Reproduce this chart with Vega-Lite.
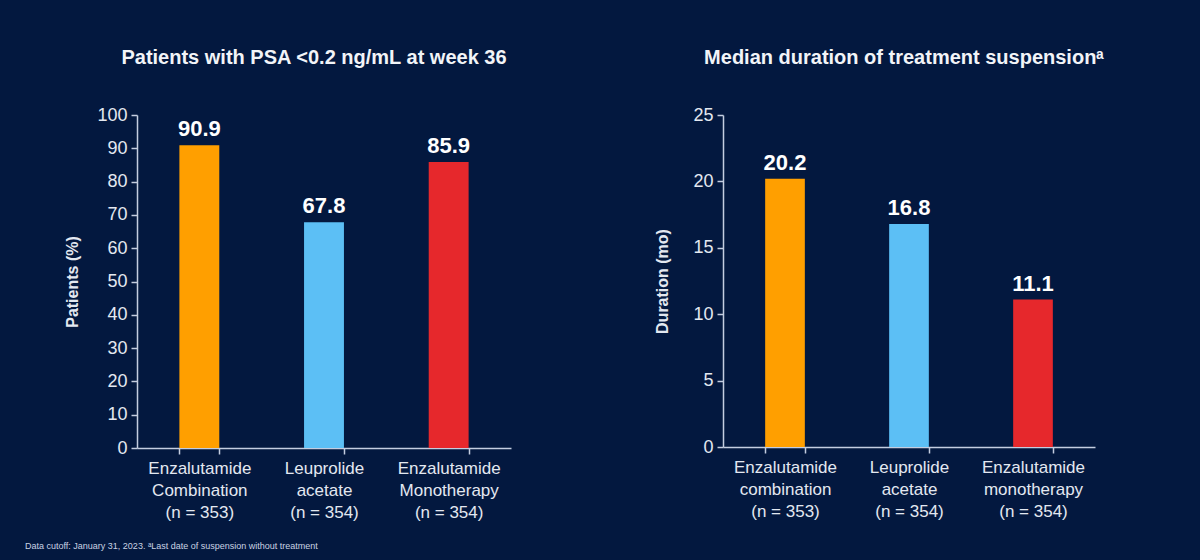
{
  "$schema": "https://vega.github.io/schema/vega-lite/v6.json",
  "background": "#03183f",
  "padding": {"left": 24, "top": 48, "right": 98, "bottom": 9},
  "spacing": 143,
  "title": {
    "text": "Data cutoff: January 31, 2023. ᵃLast date of suspension without treatment",
    "orient": "bottom",
    "anchor": "start",
    "font": "Liberation Sans",
    "fontSize": 9,
    "fontWeight": "normal",
    "color": "#c9d2e3",
    "offset": 22,
    "dx": -40
  },
  "config": {
    "view": {"stroke": null},
    "font": "Liberation Sans",
    "axis": {
      "domainColor": "#c4cde0",
      "tickColor": "#c4cde0",
      "labelColor": "#e3e8f1",
      "titleColor": "#e3e8f1",
      "labelFont": "Liberation Sans",
      "titleFont": "Liberation Sans",
      "labelFontSize": 18,
      "titleFontSize": 16,
      "titleFontWeight": "bold",
      "grid": false,
      "domainWidth": 1.5,
      "tickWidth": 1.5,
      "tickSize": 6
    },
    "title": {
      "font": "Liberation Sans",
      "fontSize": 20,
      "fontWeight": "bold",
      "color": "#f2f4f8",
      "offset": 38
    }
  },
  "hconcat": [
    {
      "width": 374,
      "height": 333,
      "title": {"text": "Patients with PSA <0.2 ng/mL at week 36", "dx": -10},
      "data": {
        "values": [
          {"group": "Enzalutamide|Combination|(n = 353)", "arm": "Enzalutamide combination", "value": 90.9},
          {"group": "Leuprolide|acetate|(n = 354)", "arm": "Leuprolide acetate", "value": 67.8},
          {"group": "Enzalutamide|Monotherapy|(n = 354)", "arm": "Enzalutamide monotherapy", "value": 85.9}
        ]
      },
      "encoding": {
        "x": {
          "field": "group",
          "type": "nominal",
          "sort": null,
          "scale": {"paddingInner": 0.68, "paddingOuter": 0.34},
          "axis": {
            "title": null,
            "labelAngle": 0,
            "labelExpr": "split(datum.label, '|')",
            "labelLineHeight": 22,
            "labelPadding": 6,
            "tickBand": "extent",
            "labelFontSize": 17
          }
        },
        "y": {
          "field": "value",
          "type": "quantitative",
          "scale": {"domain": [0, 100]},
          "axis": {"title": "Patients (%)", "values": [0,10,20,30,40,50,60,70,80,90,100], "labelPadding": 4, "titlePadding": 16}
        }
      },
      "layer": [
        {
          "mark": {"type": "bar"},
          "encoding": {
            "color": {
              "field": "arm",
              "type": "nominal",
              "legend": null,
              "scale": {
                "domain": ["Enzalutamide combination", "Leuprolide acetate", "Enzalutamide monotherapy"],
                "range": ["#ff9f00", "#5cbff5", "#e6282c"]
              }
            }
          }
        },
        {
          "mark": {"type": "text", "dy": -16, "fontSize": 22, "fontWeight": "bold", "color": "#ffffff", "font": "Liberation Sans"},
          "encoding": {"text": {"field": "value", "type": "quantitative", "format": ".1f"}}
        }
      ]
    },
    {
      "width": 372,
      "height": 332,
      "title": {"text": "Median duration of treatment suspensionᵃ", "dx": -5},
      "data": {
        "values": [
          {"group": "Enzalutamide|combination|(n = 353)", "arm": "Enzalutamide combination", "value": 20.2},
          {"group": "Leuprolide|acetate|(n = 354)", "arm": "Leuprolide acetate", "value": 16.8},
          {"group": "Enzalutamide|monotherapy|(n = 354)", "arm": "Enzalutamide monotherapy", "value": 11.1}
        ]
      },
      "encoding": {
        "x": {
          "field": "group",
          "type": "nominal",
          "sort": null,
          "scale": {"paddingInner": 0.68, "paddingOuter": 0.34},
          "axis": {
            "title": null,
            "labelAngle": 0,
            "labelExpr": "split(datum.label, '|')",
            "labelLineHeight": 22,
            "labelPadding": 6,
            "tickBand": "extent",
            "labelFontSize": 17
          }
        },
        "y": {
          "field": "value",
          "type": "quantitative",
          "scale": {"domain": [0, 25]},
          "axis": {"title": "Duration (mo)", "values": [0,5,10,15,20,25], "labelPadding": 4, "titlePadding": 22}
        }
      },
      "layer": [
        {
          "mark": {"type": "bar"},
          "encoding": {
            "color": {
              "field": "arm",
              "type": "nominal",
              "legend": null,
              "scale": {
                "domain": ["Enzalutamide combination", "Leuprolide acetate", "Enzalutamide monotherapy"],
                "range": ["#ff9f00", "#5cbff5", "#e6282c"]
              }
            }
          }
        },
        {
          "mark": {"type": "text", "dy": -16, "fontSize": 22, "fontWeight": "bold", "color": "#ffffff", "font": "Liberation Sans"},
          "encoding": {"text": {"field": "value", "type": "quantitative", "format": ".1f"}}
        }
      ]
    }
  ]
}
